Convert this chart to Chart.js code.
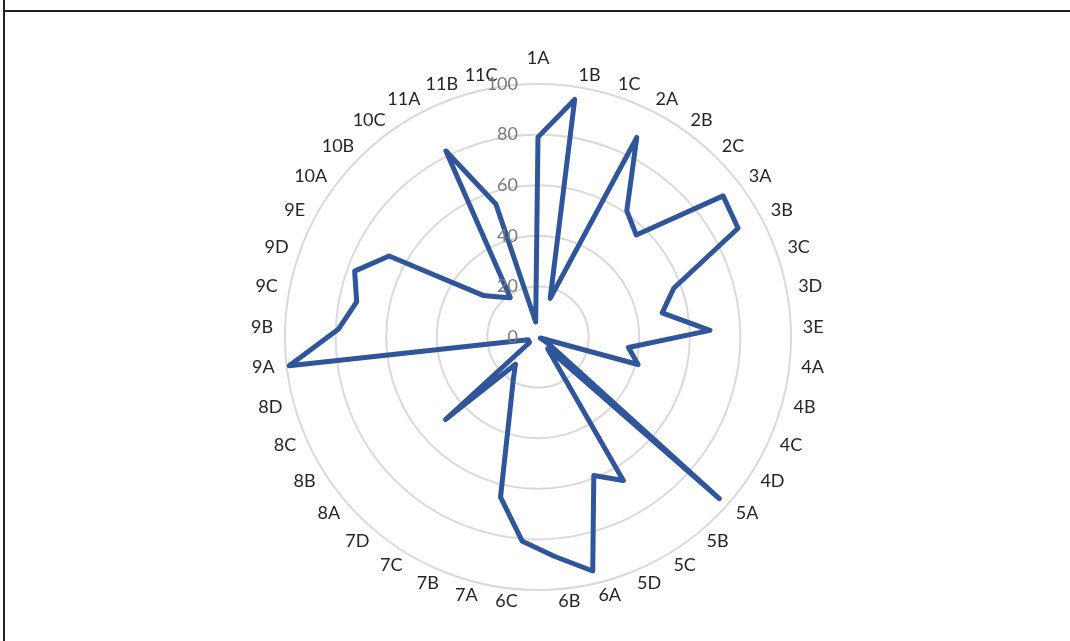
<!DOCTYPE html>
<html>
<head>
<meta charset="utf-8">
<script src="https://cdn.jsdelivr.net/npm/chart.js@4"></script>
<style>
  html, body { margin: 0; padding: 0; background: #fff; overflow: hidden; }
  body { width: 1070px; height: 641px; position: relative; }
  .frame { position: absolute; left: 3px; top: 0; width: 1067px; height: 641px; border-left: 2px solid #222; }
  .frame-top { position: absolute; left: 3px; top: 10px; width: 1067px; height: 0; border-top: 2px solid #222; }
  #wrap { position: absolute; left: 0; top: 0; width: 1070px; height: 641px; }
</style>
</head>
<body>
<div class="frame"></div>
<div class="frame-top"></div>
<div id="wrap"><canvas id="radar"></canvas></div>
<script>
const labels = ["1A", "1B", "1C", "2A", "2B", "2C", "3A", "3B", "3C", "3D", "3E",
  "4A", "4B", "4C", "4D", "5A", "5B", "5C", "5D", "6A", "6B", "6C",
  "7A", "7B", "7C", "7D", "8A", "8B", "8C", "8D", "9A", "9B", "9C", "9D", "9E",
  "10A", "10B", "10C", "11A", "11B", "11C"];

const scores = [79, 95, 16, 88, 61, 56, 92, 90, 57, 50, 68,
  36, 41, 1, 5, 96, 6, 66, 59, 95, 87, 81,
  65, 29, 19, 14, 49, 4, 4, 4, 99, 79, 73, 77, 67,
  27, 22, 19, 82, 55, 6];

const tickValues = [0, 20, 40, 60, 80, 100];

// category names around the outer ring: anchored at a fixed distance,
// pushed outward sideways (left/right aligned) and centred vertically
const outerLabels = {
  id: "outerLabels",
  afterDatasetsDraw: (chart) => {
    const r = chart.scales.r;
    const ctx = chart.ctx;
    ctx.save();
    ctx.font = "18px Lato";
    ctx.fillStyle = "#262626";
    ctx.textBaseline = "middle";
    labels.forEach((text, i) => {
      const a = r.getIndexAngle(i);
      const s = Math.sin(a);
      let dist = r.drawingArea + 12;
      if (i === 0) dist += 14; // first label clears the axis numbers
      const p = r.getPointPosition(i, dist);
      ctx.textAlign = Math.abs(s) < 1e-6 ? "center" : (s > 0 ? "left" : "right");
      ctx.fillText(text, p.x, p.y);
    });
    ctx.restore();
  }
};

// tick numbers sit just left of the vertical axis, on top of the line
const tickLabels = {
  id: "tickLabels",
  afterDatasetsDraw: (chart) => {
    const r = chart.scales.r;
    const ctx = chart.ctx;
    ctx.save();
    ctx.font = "18px Lato";
    ctx.fillStyle = "#7a7a7a";
    ctx.textAlign = "right";
    ctx.textBaseline = "middle";
    tickValues.forEach(v => {
      const d = r.getDistanceFromCenterForValue(v);
      ctx.fillText(String(v), r.xCenter - 20, r.yCenter - d);
    });
    ctx.restore();
  }
};

const ctx = document.getElementById("radar").getContext("2d");

new Chart(ctx, {
  type: "radar",
  data: {
    labels: labels,
    datasets: [{
      data: scores,
      borderColor: "#2f559a",
      borderWidth: 5,
      borderJoinStyle: "round",
      borderCapStyle: "round",
      fill: false,
      pointRadius: 0,
      tension: 0
    }]
  },
  options: {
    responsive: true,
    maintainAspectRatio: false,
    animation: false,
    layout: {
      padding: { left: 285, right: 279, top: 84, bottom: 51 }
    },
    plugins: {
      legend: { display: false },
      tooltip: { enabled: false }
    },
    scales: {
      r: {
        min: 0,
        max: 100,
        ticks: { stepSize: 20, display: false },
        grid: { color: "#d9d9d9", lineWidth: 2, circular: true },
        angleLines: { display: false },
        pointLabels: { display: false }
      }
    }
  },
  plugins: [outerLabels, tickLabels]
});
</script>
</body>
</html>
